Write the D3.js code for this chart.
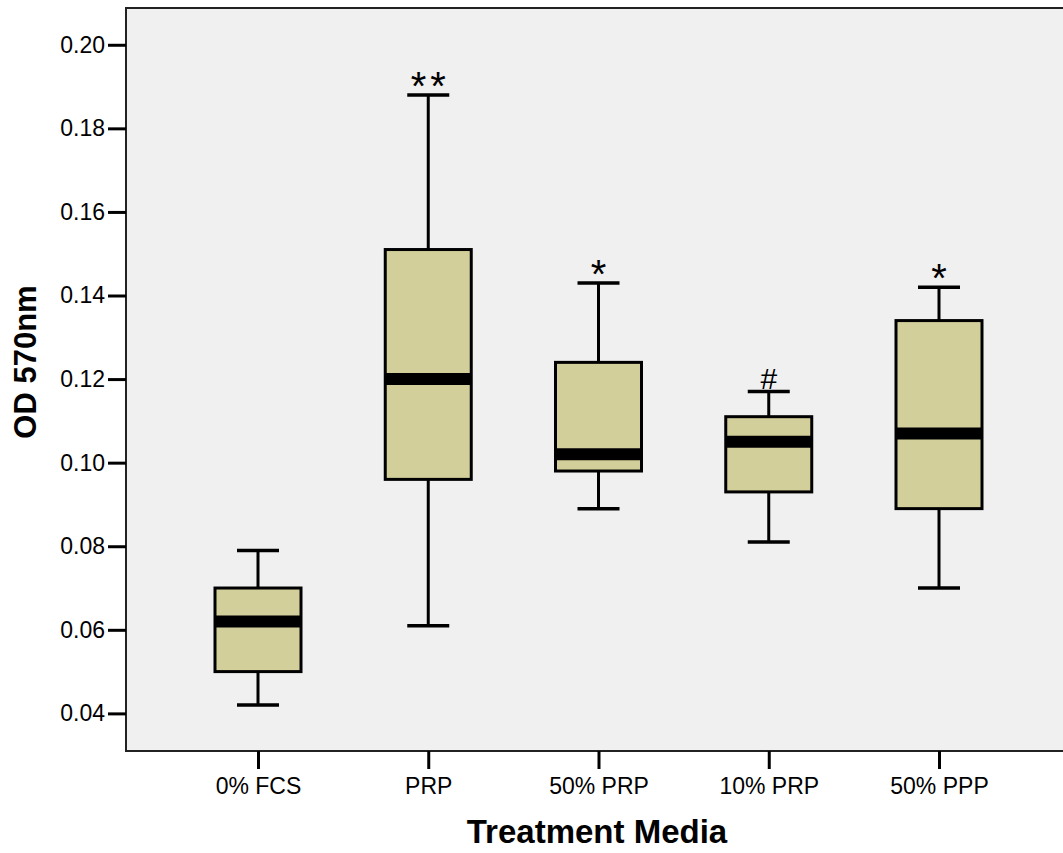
<!DOCTYPE html>
<html>
<head>
<script src="https://d3js.org/d3.v7.min.js"></script>
<style>
  body { margin: 0; overflow: hidden; background: #fff; }
  text { font-family: "Liberation Sans", Arial, sans-serif; fill: #000; }
</style>
</head>
<body>
<svg width="1063" height="853"></svg>
<script>
// data
var groups = ["0% FCS", "PRP", "50% PRP", "10% PRP", "50% PPP"];
var whiskerLow = [0.042, 0.061, 0.089, 0.081, 0.070];
var q1 = [0.050, 0.096, 0.098, 0.093, 0.089];
var median = [0.062, 0.120, 0.102, 0.105, 0.107];
var q3 = [0.070, 0.151, 0.124, 0.111, 0.134];
var whiskerHigh = [0.079, 0.188, 0.143, 0.117, 0.142];
var marks = ["", "**", "*", "#", "*"];
var yTicks = [0.04, 0.06, 0.08, 0.10, 0.12, 0.14, 0.16, 0.18, 0.20];

var plotL = 126, plotT = 8, plotR = 1072, plotB = 751;
var boxW = 86, capW = 42;

var svg = d3.select("svg");

var x = d3.scalePoint().domain(groups).range([258, 939]);
var y = d3.scaleLinear().domain([0.031, 0.2088]).range([plotB, plotT]);

svg.append("rect")
  .attr("x", plotL).attr("y", plotT)
  .attr("width", plotR - plotL).attr("height", plotB - plotT)
  .attr("fill", "#f0f0f0").attr("stroke", "#222").attr("stroke-width", 2);

var yAxis = svg.append("g")
  .attr("transform", "translate(" + plotL + ",0)")
  .call(d3.axisLeft(y).tickValues(yTicks).tickFormat(d3.format(".2f")).tickSize(18).tickPadding(3));
var xAxis = svg.append("g")
  .attr("transform", "translate(0," + plotB + ")")
  .call(d3.axisBottom(x).tickSize(18).tickPadding(9));

[yAxis, xAxis].forEach(function(a) {
  a.select(".domain").remove();
  a.selectAll(".tick line").attr("stroke", "#000").attr("stroke-width", 3);
  a.selectAll(".tick text").attr("font-size", 23).attr("font-family", "Liberation Sans, Arial, sans-serif").attr("fill", "#000");
});

var data = groups.map(function(g, i) {
  return {g: g, lo: whiskerLow[i], q1: q1[i], med: median[i], q3: q3[i], hi: whiskerHigh[i], mark: marks[i]};
});

var box = svg.append("g").selectAll("g").data(data).enter().append("g");

// whisker stems
box.append("line")
  .attr("x1", function(d) { return x(d.g); }).attr("x2", function(d) { return x(d.g); })
  .attr("y1", function(d) { return y(d.hi); }).attr("y2", function(d) { return y(d.lo); })
  .attr("stroke", "#000").attr("stroke-width", 3);

// caps
box.selectAll("line.cap").data(function(d) { return [d.lo, d.hi].map(function(v) { return {g: d.g, v: v}; }); })
  .enter().append("line").attr("class", "cap")
  .attr("x1", function(d) { return x(d.g) - capW / 2; }).attr("x2", function(d) { return x(d.g) + capW / 2; })
  .attr("y1", function(d) { return y(d.v); }).attr("y2", function(d) { return y(d.v); })
  .attr("stroke", "#000").attr("stroke-width", 3.5);

box.append("rect")
  .attr("x", function(d) { return x(d.g) - boxW / 2; })
  .attr("y", function(d) { return y(d.q3); })
  .attr("width", boxW)
  .attr("height", function(d) { return y(d.q1) - y(d.q3); })
  .attr("fill", "#d3cf9a").attr("stroke", "#000").attr("stroke-width", 3);

box.append("line")
  .attr("x1", function(d) { return x(d.g) - boxW / 2; }).attr("x2", function(d) { return x(d.g) + boxW / 2; })
  .attr("y1", function(d) { return y(d.med); }).attr("y2", function(d) { return y(d.med); })
  .attr("stroke", "#000").attr("stroke-width", 12);

// significance marks
box.append("text")
  .attr("x", function(d) { return x(d.g) + (d.mark === "**" ? 2 : 0); })
  .attr("y", function(d) { return y(d.hi) + (d.mark === "#" ? -3 : 5); })
  .attr("text-anchor", "middle")
  .attr("letter-spacing", function(d) { return d.mark === "**" ? 4 : 0; })
  .attr("font-family", "Liberation Serif, Times New Roman, serif")
  .attr("font-size", function(d) { return d.mark === "#" ? 30 : 40; })
  .text(function(d) { return d.mark; });

svg.append("text")
  .attr("x", 597).attr("y", 843)
  .attr("text-anchor", "middle")
  .attr("font-size", 33).attr("font-weight", "bold")
  .text("Treatment Media");

svg.append("text")
  .attr("transform", "translate(36,362) rotate(-90)")
  .attr("text-anchor", "middle")
  .attr("font-size", 31).attr("font-weight", "bold")
  .text("OD 570nm");
</script>
</body>
</html>
